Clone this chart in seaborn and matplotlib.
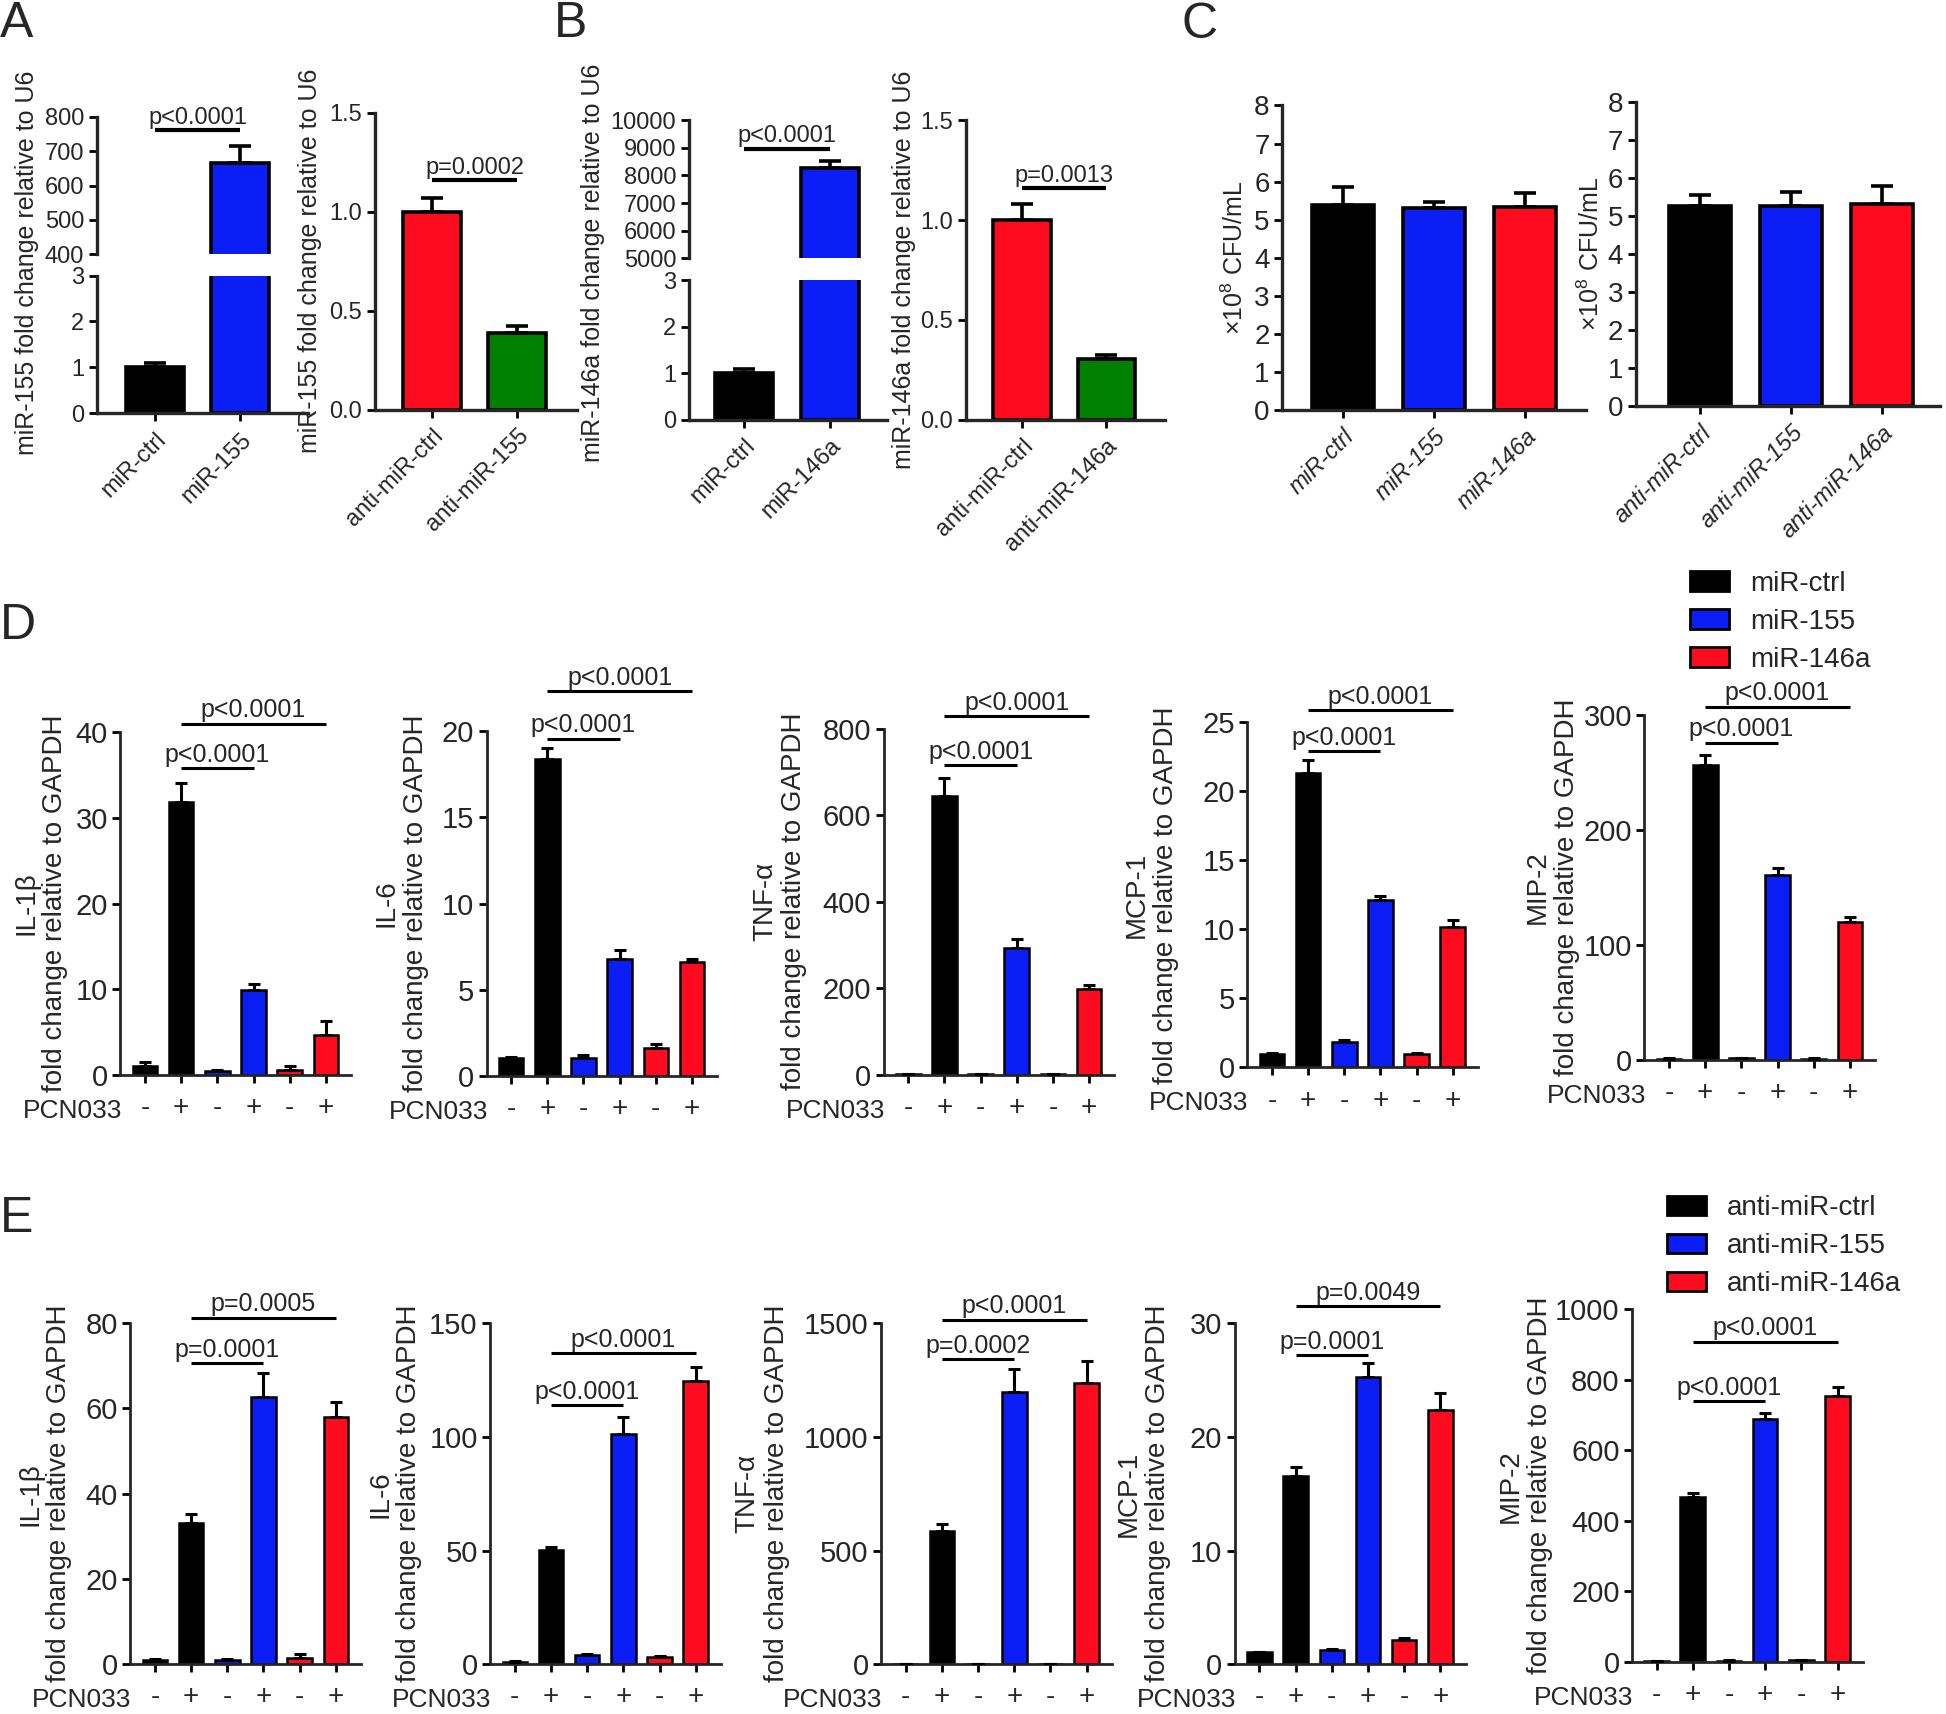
import numpy as np
import pandas as pd
import matplotlib
matplotlib.use("Agg")
import matplotlib.pyplot as plt
from matplotlib import transforms
from matplotlib.patches import Patch
from matplotlib.ticker import FormatStrFormatter
import seaborn as sns

sns.set_theme(style="ticks")
plt.rcParams["font.family"] = ["Liberation Sans", "DejaVu Sans"]
plt.rcParams["mathtext.default"] = "regular"

BLACK, BLUE, RED, GREEN = "#000000", "#0A1EF5", "#FF0A1E", "#008000"

# ---------------- data ----------------
# A: miR-155 expression
a_mir_groups = ["miR-ctrl", "miR-155"]
a_mir_vals = [1.0, 665]
a_mir_err = [0.10, 49]
a_anti_groups = ["anti-miR-ctrl", "anti-miR-155"]
a_anti_vals = [1.0, 0.385]
a_anti_err = [0.072, 0.036]
a_pvals = ["p<0.0001", "p=0.0002"]

# B: miR-146a expression
b_mir_groups = ["miR-ctrl", "miR-146a"]
b_mir_vals = [1.0, 8260]
b_mir_err = [0.08, 255]
b_anti_groups = ["anti-miR-ctrl", "anti-miR-146a"]
b_anti_vals = [1.0, 0.302]
b_anti_err = [0.08, 0.021]
b_pvals = ["p<0.0001", "p=0.0013"]

# C: bacterial load
c_mir_groups = ["miR-ctrl", "miR-155", "miR-146a"]
c_mir_vals = [5.39, 5.31, 5.34]
c_mir_err = [0.46, 0.15, 0.35]
c_anti_groups = ["anti-miR-ctrl", "anti-miR-155", "anti-miR-146a"]
c_anti_vals = [5.25, 5.27, 5.32]
c_anti_err = [0.30, 0.35, 0.47]

# D / E: cytokines, -/+ PCN033
pcn = ["-", "+", "-", "+", "-", "+"]
d_cond = ["miR-ctrl", "miR-ctrl", "miR-155", "miR-155", "miR-146a", "miR-146a"]
e_cond = ["anti-miR-ctrl", "anti-miR-ctrl", "anti-miR-155", "anti-miR-155",
          "anti-miR-146a", "anti-miR-146a"]
genes = ["IL-1β", "IL-6", "TNF-α", "MCP-1", "MIP-2"]

d_vals = [[1.0, 31.9, 0.4, 9.9, 0.6, 4.7],
          [1.03, 18.35, 1.05, 6.8, 1.6, 6.6],
          [1.0, 644, 1.0, 292, 1.0, 199],
          [1.0, 21.3, 1.86, 12.1, 1.0, 10.2],
          [1.0, 256.6, 1.5, 161.1, 1.0, 120.2]]
d_err = [[0.55, 2.2, 0.2, 0.7, 0.45, 1.55],
         [0.09, 0.68, 0.15, 0.5, 0.27, 0.2],
         [0.0, 41, 0.0, 22, 0.0, 8],
         [0.05, 0.95, 0.1, 0.3, 0.05, 0.5],
         [0.3, 8.7, 0.4, 6.2, 0.3, 3.8]]
d_pvals = [["p<0.0001", "p<0.0001"]] * 5

e_vals = [[1.0, 33.2, 1.0, 62.6, 1.6, 58.0],
          [1.2, 50.4, 4.1, 101.2, 3.4, 124.4],
          [1.0, 585, 1.0, 1196, 1.0, 1235],
          [1.06, 16.56, 1.26, 25.24, 2.15, 22.35],
          [2, 468.6, 3, 689, 5, 754]]
e_err = [[0.35, 2.1, 0.3, 5.6, 0.75, 3.4],
         [0.3, 1.1, 0.4, 7.3, 0.4, 6.2],
         [0.0, 33, 0.0, 100, 0.0, 100],
         [0.05, 0.75, 0.09, 1.26, 0.15, 1.5],
         [1, 11.4, 1, 16, 1, 27]]
e_pvals = [["p=0.0001", "p=0.0005"], ["p<0.0001", "p<0.0001"],
           ["p=0.0002", "p<0.0001"], ["p=0.0001", "p=0.0049"],
           ["p<0.0001", "p<0.0001"]]

cond_colors = {"miR-ctrl": BLACK, "miR-155": BLUE, "miR-146a": RED,
               "anti-miR-ctrl": BLACK, "anti-miR-155": BLUE, "anti-miR-146a": RED}

# ---------------- layout helpers (reference grid 1568 x 1381) ----------------
W, H = 1568.0, 1381.0
fig = plt.figure(figsize=(19.46, 17.14), dpi=100)


def add_ax(x, ytop, w, ybot):
    return fig.add_axes([x / W, 1 - ybot / H, w / W, (ybot - ytop) / H])


def bars(ax, keys, vals, errs, colors, lw, cap, elw):
    df = pd.DataFrame({"group": keys, "value": vals})
    sns.barplot(data=df, x="group", y="value", hue="group", order=keys,
                hue_order=keys, palette=dict(zip(keys, colors)), width=0.68,
                edgecolor="black", linewidth=lw, saturation=1, legend=False,
                errorbar=None, ax=ax)
    n = len(vals)
    ax.errorbar(np.arange(n), vals, yerr=[np.zeros(n), errs], fmt="none",
                ecolor="black", elinewidth=elw, capsize=cap, capthick=elw,
                zorder=3, clip_on=True)
    ax.set_xlabel("")
    ax.set_ylabel("")


def bracket(ax, i, j, y, text, lw, fs):
    ax.plot([i, j], [y, y], color="black", lw=lw, clip_on=False,
            solid_capstyle="butt")
    ax.annotate(text, xy=((i + j) / 2, y), xytext=(0, 1.0),
                textcoords="offset points", ha="center", va="bottom",
                fontsize=fs, annotation_clip=False)


def frame(ax, xlim, ylim, yticks, fs, spw, tlen=6, twid=2):
    ax.set_xlim(*xlim)
    ax.set_ylim(*ylim)
    ax.set_yticks(yticks)
    sns.despine(ax=ax)
    for s in ("left", "bottom"):
        ax.spines[s].set_linewidth(spw)
    ax.tick_params(direction="out", length=tlen, width=twid, labelsize=fs,
                   pad=3, color="black")


def ylab(ax, text, dx, w, fs):
    ax.set_ylabel(text, fontsize=fs, linespacing=1.15)
    ax.yaxis.set_label_coords(dx / w, 0.5)
    ax.yaxis.label.set_verticalalignment("center")


# ---------------- panels A and B (broken + simple) ----------------
def broken(x, w, top, bot, xlim, groups, vals, errs, colors, hi_lim, hi_ticks,
           pval, py, label, lab_x):
    axh = add_ax(x, top[0], w, top[1])
    axl = add_ax(x, bot[0], w, bot[1])
    for ax in (axh, axl):
        bars(ax, groups, vals, errs, colors, 2.6, 8, 2.6)
    frame(axh, xlim, hi_lim, hi_ticks, 17, 2.4)
    frame(axl, xlim, (0, 3), [0, 1, 2, 3], 17, 2.4)
    axh.spines["bottom"].set_visible(False)
    axh.tick_params(axis="x", bottom=False, labelbottom=False)
    axl.set_xticks(range(len(groups)))
    axl.set_xticklabels(groups, rotation=45, ha="right", rotation_mode="anchor",
                        fontsize=17)
    axl.tick_params(axis="x", pad=5)
    bracket(axh, 0, 1, py, pval, 3.0, 17)
    fig.text(lab_x / W, 1 - 212 / H, label, rotation=90, ha="center",
             va="center", fontsize=18)


def simple(x, w, ytop, ybot, xlim, groups, vals, errs, colors, ylim, yticks,
           pval, py, label, dx, fs_tick=17, italic=False, fmt=None):
    ax = add_ax(x, ytop, w, ybot)
    bars(ax, groups, vals, errs, colors, 2.6, 8, 2.6)
    frame(ax, xlim, ylim, yticks, fs_tick, 2.4)
    ax.set_xticks(range(len(groups)))
    ax.set_xticklabels(groups, rotation=45, ha="right", rotation_mode="anchor",
                       fontsize=17, style="italic" if italic else "normal")
    ax.tick_params(axis="x", pad=5)
    if fmt:
        ax.yaxis.set_major_formatter(FormatStrFormatter(fmt))
    if pval:
        bracket(ax, 0, 1, py, pval, 3.0, 17)
    ylab(ax, label, dx, w, 18)
    return ax


broken(78, 170, (94, 205), (222, 333), (-0.68, 1.79), a_mir_groups, a_mir_vals,
       a_mir_err, [BLACK, BLUE], (400, 800), [400, 500, 600, 700, 800],
       a_pvals[0], 760, "miR-155 fold change relative to U6", 22)
simple(302, 163, 91, 330, (-0.67, 1.70), a_anti_groups, a_anti_vals, a_anti_err,
       [RED, GREEN], (0, 1.5), [0, 0.5, 1.0, 1.5], a_pvals[1], 1.16,
       "miR-155 fold change relative to U6", -52, fmt="%.1f")

broken(555, 160, (97, 208), (226, 338), (-0.645, 1.67), b_mir_groups, b_mir_vals,
       b_mir_err, [BLACK, BLUE], (5000, 10000),
       [5000, 6000, 7000, 8000, 9000, 10000],
       b_pvals[0], 8970, "miR-146a fold change relative to U6", 478)
simple(778, 161, 97, 338, (-0.67, 1.70), b_anti_groups, b_anti_vals, b_anti_err,
       [RED, GREEN], (0, 1.5), [0, 0.5, 1.0, 1.5], b_pvals[1], 1.159,
       "miR-146a fold change relative to U6", -50, fmt="%.1f")

# ---------------- panel C ----------------
cfu = "×10$^{8}$ CFU/mL"
simple(1033, 245, 85, 330, (-0.667, 2.667), c_mir_groups, c_mir_vals, c_mir_err,
       [BLACK, BLUE, RED], (0, 8), range(9), None, 0, cfu, -38, fs_tick=20,
       italic=True)
simple(1318, 245, 82, 327, (-0.70, 2.633), c_anti_groups, c_anti_vals,
       c_anti_err, [BLACK, BLUE, RED], (0, 8), range(9), None, 0, cfu, -36,
       fs_tick=20, italic=True)

# ---------------- panels D and E ----------------
d_layout = [(97, 590, 866), (392, 589, 867), (712, 587, 866), (1005, 582, 860),
            (1325, 576, 854)]
e_layout = [(105, 1066, 1341), (395, 1066, 1341), (710, 1066, 1341),
            (995, 1066, 1341), (1315, 1055, 1339)]
d_ylims = [40, 20, 800, 25, 300]
e_ylims = [80, 150, 1500, 30, 1000]
d_steps = [10, 5, 200, 5, 100]
e_steps = [20, 50, 500, 10, 200]
d_brk = [(35.8, 41.0), (19.55, 22.3), (715, 828), (22.9, 25.9), (275.8, 307)]
e_brk = [(70.6, 81.25), (114, 136.8), (1341, 1515), (27.15, 31.5),
         (739.5, 908.7)]
d_dx = [-64, -68.5, -84, -77.5, -74]
e_dx = [-69, -77, -96, -74, -86]
CW = 186


def cyto(layout, cond, vals, errs, ylims, steps, brk, pvals, dx):
    for k in range(5):
        x, ytop, ybot = layout[k]
        ax = add_ax(x, ytop, CW, ybot)
        keys = [f"{c} {s}" for c, s in zip(cond, pcn)]
        cols = [cond_colors[c] for c in cond]
        bars(ax, keys, vals[k], errs[k], cols, 1.8, 4, 2.2)
        frame(ax, (-0.68, 5.7), (0, ylims[k]),
              np.arange(0, ylims[k] + steps[k] / 2, steps[k]), 21, 2.0)
        ax.set_xticks(range(6))
        ax.set_xticklabels(pcn, fontsize=20)
        ax.tick_params(axis="x", pad=8.5)
        bracket(ax, 1, 3, brk[k][0], pvals[k][0], 2.2, 18)
        bracket(ax, 1, 5, brk[k][1], pvals[k][1], 2.2, 18)
        ylab(ax, f"{genes[k]}\nfold change relative to GAPDH", dx[k], CW, 20)
        off = transforms.offset_copy(ax.transAxes, fig=fig, x=1, y=-26,
                                     units="points")
        ax.text(0, 0, "PCN033", transform=off, ha="right", va="center",
                fontsize=19)


cyto(d_layout, d_cond, d_vals, d_err, d_ylims, d_steps, d_brk, d_pvals, d_dx)
cyto(e_layout, e_cond, e_vals, e_err, e_ylims, e_steps, e_brk, e_pvals, e_dx)

# legends
for names, anchor in ((["miR-ctrl", "miR-155", "miR-146a"], (1362, 460)),
                      (["anti-miR-ctrl", "anti-miR-155", "anti-miR-146a"],
                       (1343, 963))):
    handles = [Patch(facecolor=cond_colors[n], edgecolor="black", linewidth=2)
               for n in names]
    fig.legend(handles, names, loc="upper left",
               bbox_to_anchor=(anchor[0] / W, 1 - anchor[1] / H), frameon=False,
               fontsize=20, handlelength=1.4, handleheight=0.7,
               handletextpad=0.75, labelspacing=0.43, borderpad=0,
               borderaxespad=0)

# panel letters
for letter, x, y in (("A", 0, 30), ("B", 446, 30), ("C", 952, 31),
                     ("D", 0, 515), ("E", 0, 993)):
    fig.text(x / W, 1 - y / H, letter, fontsize=36, ha="left",
             va="baseline")

fig.savefig("out.png", dpi=100)
